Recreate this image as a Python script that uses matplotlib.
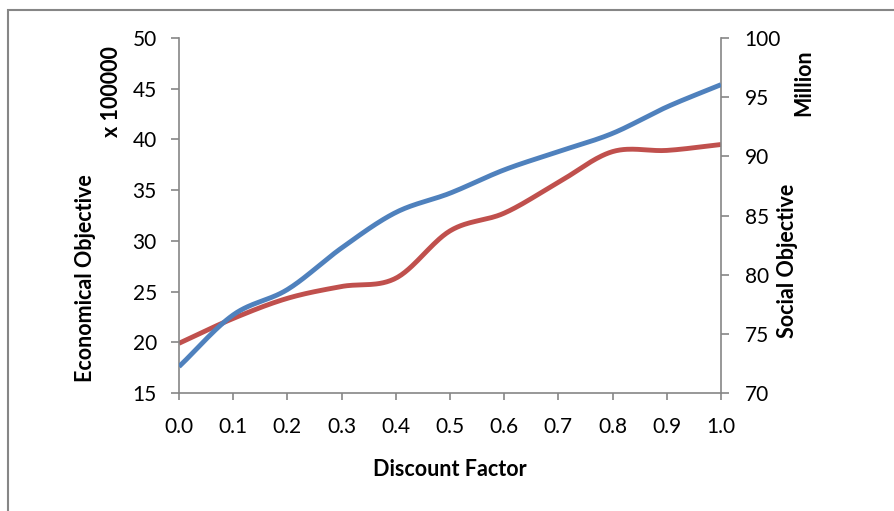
import numpy as np
import matplotlib
matplotlib.use("Agg")
import matplotlib.pyplot as plt
from matplotlib.patches import Rectangle

# data
discount = [0.0, 0.1, 0.2, 0.3, 0.4, 0.5, 0.6, 0.7, 0.8, 0.9, 1.0]
economical = [17.6, 22.7, 25.2, 29.3, 32.8, 34.7, 37.0, 38.8, 40.6, 43.2, 45.4]
social = [74.2, 76.3, 78.0, 79.0, 79.7, 83.7, 85.2, 87.8, 90.4, 90.5, 91.0]


def smooth(x, y, n=30):
    # Catmull-Rom style smoothing, like Excel's smoothed line
    x = np.asarray(x, float)
    y = np.asarray(y, float)
    px = np.concatenate([[2 * x[0] - x[1]], x, [2 * x[-1] - x[-2]]])
    py = np.concatenate([[2 * y[0] - y[1]], y, [2 * y[-1] - y[-2]]])
    xs, ys = [], []
    t = np.linspace(0, 1, n, endpoint=False)
    for i in range(1, len(px) - 2):
        for p, out in ((px, xs), (py, ys)):
            p0, p1, p2, p3 = p[i - 1], p[i], p[i + 1], p[i + 2]
            out.extend(0.5 * ((2 * p1) + (-p0 + p2) * t
                              + (2 * p0 - 5 * p1 + 4 * p2 - p3) * t ** 2
                              + (-p0 + 3 * p1 - 3 * p2 + p3) * t ** 3))
    xs.append(x[-1])
    ys.append(y[-1])
    return np.array(xs), np.array(ys)


plt.rcParams['font.family'] = ['Lato', 'DejaVu Sans']
gray = '#868686'

fig = plt.figure(figsize=(8.94, 5.11), dpi=100)
ax = fig.add_axes([179 / 894, 1 - 393 / 511, (721 - 179) / 894, (393 - 38) / 511])
ax2 = ax.twinx()

bx, by = smooth(discount, economical)
rx, ry = smooth(discount, social)
ax2.plot(rx, ry, color='#C0504D', lw=3.5, solid_capstyle='butt', zorder=2)
ax.plot(bx, by, color='#4F81BD', lw=3.5, solid_capstyle='butt', zorder=3)
ax.set_zorder(ax2.get_zorder() + 1)
ax.patch.set_visible(False)

ax.set_xlim(0, 1)
ax.set_ylim(15, 50)
ax2.set_ylim(70, 100)
ax.set_xticks(discount)
ax.set_xticklabels([f"{v:.1f}" for v in discount])
ax.set_yticks(range(15, 51, 5))
ax2.set_yticks(range(70, 101, 5))

for a in (ax, ax2):
    for s in a.spines.values():
        s.set_visible(False)
    a.tick_params(colors=gray, labelcolor='black', labelsize=15, length=6, width=1.2, direction='out')
ax.spines['left'].set_visible(True)
ax.spines['bottom'].set_visible(True)
ax2.spines['right'].set_visible(True)
for s in (ax.spines['left'], ax.spines['bottom'], ax2.spines['right']):
    s.set_color(gray)
    s.set_linewidth(1.2)
ax.tick_params(axis='x', length=5, pad=12)
ax.tick_params(axis='y', pad=10)
ax2.tick_params(axis='y', pad=11)

lab = dict(ha='center', va='center', fontsize=15.5, fontweight='bold')
fig.text(450 / 894, 1 - 470 / 511, 'Discount Factor', **lab)
fig.text(86 / 894, 1 - 278 / 511, 'Economical Objective', rotation=90, **lab)
fig.text(112 / 894, 1 - 92 / 511, 'x 100000', rotation=90, **lab)
fig.text(788 / 894, 1 - 261 / 511, 'Social Objective', rotation=90, **lab)
fig.text(804 / 894, 1 - 83 / 511, 'Million', rotation=90, **lab)

# outer chart border, running off the right and bottom edges
fig.patches.append(Rectangle((8 / 894, -0.1), 1.2, 1 - 10 / 511 + 0.1,
                             transform=fig.transFigure, fill=False,
                             edgecolor=gray, lw=1.5))

fig.savefig('out.png', dpi=100)
